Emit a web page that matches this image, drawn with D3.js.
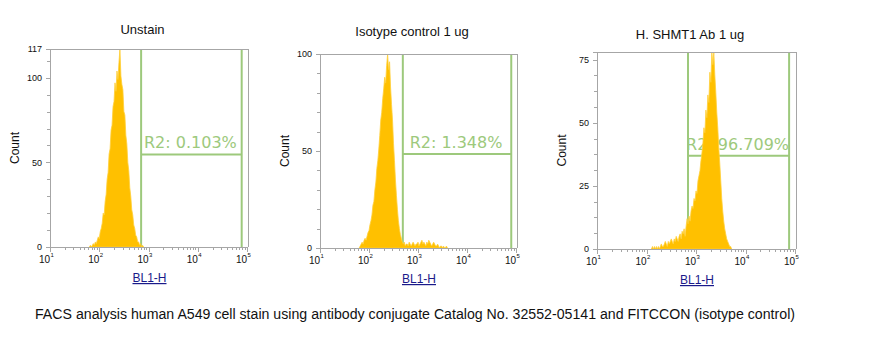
<!DOCTYPE html>
<html><head><meta charset="utf-8">
<script src="https://cdn.jsdelivr.net/npm/d3@7"></script>
<style>body{margin:0;background:#fff}svg{display:block}</style>
</head><body>
<svg id="c" width="878" height="350"></svg>
<script>
// ---- data ----
const titles = ["Unstain", "Isotype control 1 ug", "H. SHMT1 Ab 1 ug"];
const yMax = [117, 100, 78];
const yMajorTicks = [[0, 50, 100, 117], [0, 50, 100], [0, 25, 50, 75]];
const yMinorStep = [10, 10, 6.25];
const xTickExponents = [1, 2, 3, 4, 5];
const xAxisLabel = "BL1-H";
const yAxisLabel = "Count";
const gateLabels = ["R2: 0.103%", "R2: 1.348%", "R2: 96.709%"];
const gateLeft = [708, 490, 690];       // BL1-H
const gateRight = [78000, 80000, 76000];
const gateLevel = [54.7, 48.5, 36.9];   // Count
// histogram: log10 of first bin, bin width in log10 units, counts
const binStartLog = [1.80, 1.80, 2.10];
const binWidthLog = [0.02, 0.02, 0.02];
const counts1 = [0,1,0,1,2,1,3,2,4,6,5,9,11,14,20,19,27,31,40,44,55,58,69,72,83,86,97,92,104,99,109,117,101,96,93,80,78,66,61,50,45,35,30,22,19,13,11,7,6,3,3,1,2,0,1,0];
const counts2 = [0,1,2,3,2,4,5,4,6,8,9,12,14,17,22,24,30,34,41,45,51,58,66,70,77,82,88,85,94,100,92,96,83,74,66,54,45,35,27,20,14,10,7,5,3,2,3,1,2,
  2,1,3,2,1,2,3,2,1,2,2,3,1,2,3,4,2,3,2,1,3,2,4,3,2,1,2,3,2,1,1,2,1,0,1,1,0,1,0,0,1,0];
const counts3 = [0,1,0,1,0,1,0,1,0,1,2,1,1,2,3,2,1,3,2,3,4,3,2,4,3,5,4,3,5,6,4,7,6,8,5,9,12,10,13,11,15,17,16,20,19,23,22,27,29,31,35,38,42,48,46,55,52,61,58,70,66,78,73,78,69,62,54,48,40,34,27,20,15,11,8,6,4,3,2,1,1,0];
const captionText = "FACS analysis human A549 cell stain using antibody conjugate Catalog No. 32552-05141 and FITCCON (isotype control)";

// ---- layout ----
const frames = [
  {x0: 50, x1: 247, top: 49, bottom: 247, titleY: 34},
  {x0: 320, x1: 516, top: 54, bottom: 248, titleY: 36},
  {x0: 597, x1: 795, top: 52, bottom: 249, titleY: 39}
];
const allCounts = [counts1, counts2, counts3];
const svg = d3.select("#c");
const grey = "#a6a6a6";
const gateColor = "#9dc97c";

frames.forEach((f, p) => {
  const x = d3.scaleLog().domain([10, 1e5]).range([f.x0, f.x1]);
  const y = d3.scaleLinear().domain([0, yMax[p]]).range([f.bottom, f.top]);
  const g = svg.append("g");

  // title
  g.append("text").attr("x", (f.x0 + f.x1) / 2 - 6).attr("y", f.titleY)
    .attr("text-anchor", "middle").attr("font-family", "Liberation Sans, Arial, sans-serif")
    .attr("font-size", 13).attr("fill", "#111").text(titles[p]);

  // gate
  const gl = x(gateLeft[p]), gr = x(gateRight[p]), gy = y(gateLevel[p]);
  g.append("text").attr("x", (gl + gr) / 2 - 1).attr("y", gy - 6)
    .attr("text-anchor", "middle").attr("font-family", "DejaVu Sans, Verdana, sans-serif")
    .attr("font-size", 16).attr("fill", gateColor).text(gateLabels[p]);
  g.append("line").attr("x1", gl).attr("x2", gr).attr("y1", gy).attr("y2", gy)
    .attr("stroke", gateColor).attr("stroke-width", 2);
  [gl, gr].forEach(xx => g.append("line").attr("x1", xx).attr("x2", xx)
    .attr("y1", f.top).attr("y2", f.bottom).attr("stroke", gateColor).attr("stroke-width", 2));

  // histogram
  const data = allCounts[p].map((c, i) => ({v: Math.pow(10, binStartLog[p] + i * binWidthLog[p]), c: c}));
  const area = d3.area().x(d => x(d.v)).y0(y(0)).y1(d => y(Math.min(d.c, yMax[p])));
  g.append("path").datum(data).attr("d", area)
    .attr("fill", "#ffc000").attr("stroke", "#ffcf3a").attr("stroke-width", 0.8);

  // box
  g.append("path").attr("d", `M${f.x0},${f.bottom}V${f.top}H${f.x1 + 1}V${f.bottom}`)
    .attr("fill", "none").attr("stroke", grey).attr("stroke-width", 1).attr("shape-rendering", "crispEdges");

  // x axis
  const minor = [];
  for (let e = 1; e < 5; e++) for (let k = 2; k <= 9; k++) minor.push(k * Math.pow(10, e));
  const xa = d3.axisBottom(x).tickValues(xTickExponents.map(e => Math.pow(10, e))).tickSize(5).tickFormat("");
  const xm = d3.axisBottom(x).tickValues(minor).tickSize(3).tickFormat("");
  [xa, xm].forEach(ax => {
    const a = g.append("g").attr("transform", `translate(0,${f.bottom})`).call(ax);
    a.selectAll("path,line").attr("stroke", grey).attr("shape-rendering", "crispEdges");
  });
  xTickExponents.forEach(e => {
    const t = g.append("text").attr("x", x(Math.pow(10, e))).attr("y", f.bottom + 16)
      .attr("font-family", "Liberation Sans, Arial, sans-serif").attr("fill", "#111");
    t.append("tspan").attr("font-size", 10).attr("text-anchor", "end").text("10");
    g.append("text").attr("x", x(Math.pow(10, e)) + 0.5).attr("y", f.bottom + 10)
      .attr("font-family", "Liberation Sans, Arial, sans-serif").attr("font-size", 6)
      .attr("fill", "#111").text(e);
  });
  g.selectAll("text tspan").attr("text-anchor", null);
  // fix anchor for "10"
  g.selectAll("text").filter(function(){ return this.textContent === "10"; })
    .attr("text-anchor", "end");

  // y axis
  const yMinor = d3.range(0, yMax[p] + 0.001, yMinorStep[p]);
  const ya = d3.axisLeft(y).tickValues(yMajorTicks[p]).tickSize(4).tickFormat(d3.format("d"));
  const ym = d3.axisLeft(y).tickValues(yMinor).tickSize(3).tickFormat("");
  const ayM = g.append("g").attr("transform", `translate(${f.x0},0)`).call(ym);
  ayM.selectAll("path,line").attr("stroke", grey).attr("shape-rendering", "crispEdges");
  const ay = g.append("g").attr("transform", `translate(${f.x0},0)`).call(ya);
  ay.selectAll("path,line").attr("stroke", grey).attr("shape-rendering", "crispEdges");
  ay.selectAll("text").attr("font-family", "Liberation Sans, Arial, sans-serif")
    .attr("font-size", 9).attr("fill", "#111").attr("x", -8);

  // axis labels
  g.append("text").attr("x", (f.x0 + f.x1) / 2 + 1).attr("y", f.bottom + 35)
    .attr("text-anchor", "middle").attr("font-family", "Liberation Sans, Arial, sans-serif")
    .attr("font-size", 12).attr("fill", "#1a1a8a").attr("text-decoration", "underline")
    .text(xAxisLabel);
  g.append("text").attr("transform", `translate(${f.x0 - 31},${(f.top + f.bottom) / 2}) rotate(-90)`)
    .attr("text-anchor", "middle").attr("font-family", "Liberation Sans, Arial, sans-serif")
    .attr("font-size", 12).attr("fill", "#111").text(yAxisLabel);
});

svg.append("text").attr("x", 35).attr("y", 319)
  .attr("font-family", "Liberation Sans, Arial, sans-serif").attr("font-size", 14)
  .attr("textLength", 760).attr("lengthAdjust", "spacingAndGlyphs")
  .attr("fill", "#111").text(captionText);
</script>
</body></html>
